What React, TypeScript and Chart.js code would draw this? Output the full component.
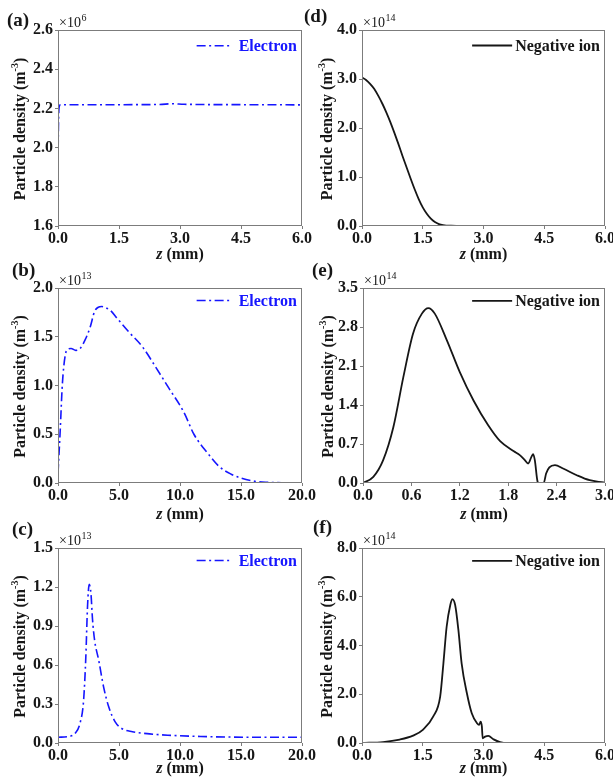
import React, { useEffect, useRef } from "react";
import { Chart, registerables } from "chart.js";
Chart.register(...registerables);

const SERIF = "'Liberation Serif', 'Times New Roman', Times, serif";
const BLUE = "#1616ff";
const BLACK = "#161616";
const AXIS = "#7c7c7c";

// ---- data (values in units of the panel's ×10^n) ----
// (a) electron, ×10^6
const aZ = [0, 0.01, 0.03, 0.06, 0.5, 1.5, 2.5, 2.8, 3.1, 4.5, 6.0];
const aN = [1.9, 2.1, 2.21, 2.218, 2.219, 2.219, 2.22, 2.224, 2.221, 2.219, 2.218];
// (b) electron, ×10^13
const bZ = [0, 0.17, 0.36, 0.58, 0.77, 1.07, 1.46, 1.82, 2.23, 2.64, 3.0, 3.27, 3.6, 3.88, 4.29, 4.84, 5.8, 6.9, 8.0, 9.1, 10.3, 11.14, 12.24, 13.2, 14.2, 15.0, 16.0, 17.2, 18.5, 20];
const bN = [0.1, 0.51, 1.02, 1.3, 1.37, 1.38, 1.36, 1.38, 1.47, 1.6, 1.76, 1.8, 1.81, 1.8, 1.77, 1.69, 1.55, 1.4, 1.19, 0.97, 0.73, 0.5, 0.31, 0.17, 0.09, 0.05, 0.02, 0.007, 0.002, 0];
// (c) electron, ×10^13
const cZ = [0, 0.85, 1.4, 1.8, 2.1, 2.28, 2.42, 2.56, 2.7, 2.83, 3.0, 3.33, 3.74, 4.15, 4.7, 5.25, 6.1, 7.5, 9, 11.7, 14, 16, 20];
const cN = [0.044, 0.05, 0.074, 0.15, 0.33, 0.66, 1.05, 1.22, 1.15, 0.95, 0.79, 0.64, 0.43, 0.28, 0.16, 0.11, 0.087, 0.07, 0.06, 0.05, 0.046, 0.044, 0.044];
// (d) negative ion, ×10^14
const dZ = [0, 0.1, 0.2, 0.3, 0.4, 0.5, 0.6, 0.7, 0.8, 0.9, 1.0, 1.1, 1.2, 1.3, 1.4, 1.5, 1.6, 1.7, 1.8, 1.9, 2.0, 2.2, 2.5, 6.0];
const dN = [3.03, 2.98, 2.9, 2.8, 2.66, 2.5, 2.32, 2.12, 1.9, 1.67, 1.43, 1.2, 0.97, 0.75, 0.55, 0.38, 0.25, 0.15, 0.08, 0.04, 0.02, 0.005, 0, 0];
// (e) negative ion, ×10^14
const eZ = [0, 0.128, 0.25, 0.376, 0.5, 0.62, 0.73, 0.81, 0.89, 1.04, 1.2, 1.37, 1.55, 1.7, 1.87, 1.944, 2.006, 2.047, 2.088, 2.11, 2.13, 2.165, 2.18, 2.24, 2.27, 2.31, 2.38, 2.48, 2.65, 2.81, 2.98, 3.0];
const eN = [0, 0.11, 0.41, 1.0, 1.9, 2.68, 3.04, 3.14, 3.04, 2.56, 1.99, 1.48, 1.04, 0.75, 0.57, 0.5, 0.41, 0.35, 0.47, 0.52, 0.41, 0.02, 0, 0, 0.17, 0.28, 0.32, 0.26, 0.14, 0.05, 0.01, 0.005];
// (f) negative ion, ×10^14
const fZ = [0, 0.52, 0.93, 1.26, 1.51, 1.76, 1.93, 2.01, 2.09, 2.18, 2.23, 2.3, 2.38, 2.46, 2.59, 2.71, 2.84, 2.89, 2.93, 2.96, 2.98, 3.04, 3.12, 3.25, 3.41, 3.58, 6.0];
const fN = [0, 0.04, 0.14, 0.3, 0.55, 1.09, 1.9, 3.27, 4.77, 5.66, 5.9, 5.66, 4.64, 3.27, 2.04, 1.22, 0.81, 0.74, 0.88, 0.67, 0.19, 0.26, 0.29, 0.15, 0.04, 0, 0];

// ---- tick labels ----
const xTicks6 = [0, 1.5, 3.0, 4.5, 6.0];
const xTicks20 = [0, 5, 10, 15, 20];
const xTicks3 = [0, 0.6, 1.2, 1.8, 2.4, 3.0];
const aYTicks = [1.6, 1.8, 2.0, 2.2, 2.4, 2.6];
const bYTicks = [0, 0.5, 1.0, 1.5, 2.0];
const cYTicks = [0, 0.3, 0.6, 0.9, 1.2, 1.5];
const dYTicks = [0, 1, 2, 3, 4];
const eYTicks = [0, 0.7, 1.4, 2.1, 2.8, 3.5];
const fYTicks = [0, 2, 4, 6, 8];

const panelLabels = ["(a)", "(b)", "(c)", "(d)", "(e)", "(f)"];
const exponents = ["6", "13", "13", "14", "14", "14"];
const seriesNames = ["Electron", "Negative ion"];

type Panel = {
  canvas: { left: number; top: number; w: number; h: number };
  plot: { l: number; t: number; r: number; b: number };
  z: number[];
  n: number[];
  xTicks: number[];
  yTicks: number[];
  exp: string;
  label: string;
  labelPos: [number, number];
  legendDy: number;
  electron: boolean;
  xTitleY: number;
  yTitleOff: number;
};

const COL1 = { left: 0, w: 330 };
const COL2 = { left: 296, w: 317 };
const ROW1 = { top: 0, h: 268 };
const ROW2 = { top: 258, h: 268 };
const ROW3 = { top: 516, h: 267 };

const panels: Panel[] = [
  { canvas: { left: COL1.left, top: ROW1.top, w: COL1.w, h: ROW1.h }, plot: { l: 58, t: 30, r: 302, b: 226 }, z: aZ, n: aN, xTicks: xTicks6, yTicks: aYTicks, exp: exponents[0], label: panelLabels[0], labelPos: [7, 25.5], legendDy: 15.7, electron: true, xTitleY: 259, yTitleOff: 33.5 },
  { canvas: { left: COL1.left, top: ROW2.top, w: COL1.w, h: ROW2.h }, plot: { l: 58, t: 288, r: 302, b: 483 }, z: bZ, n: bN, xTicks: xTicks20, yTicks: bYTicks, exp: exponents[1], label: panelLabels[1], labelPos: [12, 276], legendDy: 12.5, electron: true, xTitleY: 519, yTitleOff: 33.5 },
  { canvas: { left: COL1.left, top: ROW3.top, w: COL1.w, h: ROW3.h }, plot: { l: 58, t: 548, r: 302, b: 743 }, z: cZ, n: cN, xTicks: xTicks20, yTicks: cYTicks, exp: exponents[2], label: panelLabels[2], labelPos: [12, 534.5], legendDy: 12.5, electron: true, xTitleY: 773, yTitleOff: 33.5 },
  { canvas: { left: COL2.left, top: ROW1.top, w: COL2.w, h: ROW1.h }, plot: { l: 362, t: 30, r: 605, b: 226 }, z: dZ, n: dN, xTicks: xTicks6, yTicks: dYTicks, exp: exponents[3], label: panelLabels[3], labelPos: [304, 22], legendDy: 15.5, electron: false, xTitleY: 259, yTitleOff: 30.5 },
  { canvas: { left: COL2.left, top: ROW2.top, w: COL2.w, h: ROW2.h }, plot: { l: 363, t: 288, r: 605, b: 483 }, z: eZ, n: eN, xTicks: xTicks3, yTicks: eYTicks, exp: exponents[4], label: panelLabels[4], labelPos: [312, 276], legendDy: 12.8, electron: false, xTitleY: 519, yTitleOff: 30.5 },
  { canvas: { left: COL2.left, top: ROW3.top, w: COL2.w, h: ROW3.h }, plot: { l: 362, t: 548, r: 605, b: 743 }, z: fZ, n: fN, xTicks: xTicks6, yTicks: fYTicks, exp: exponents[5], label: panelLabels[5], labelPos: [313, 533], legendDy: 12.8, electron: false, xTitleY: 773, yTitleOff: 30.5 },
];

const DASH = [9, 3.5, 2, 3.5];

function makeChart(canvas: HTMLCanvasElement, p: Panel) {
  const ox = p.canvas.left;
  const oy = p.canvas.top;
  const plotL = p.plot.l - ox;
  const plotT = p.plot.t - oy;
  const plotR = p.plot.r - ox;
  const plotB = p.plot.b - oy;
  const color = p.electron ? BLUE : BLACK;
  const name = p.electron ? seriesNames[0] : seriesNames[1];

  const decor = {
    id: "decor",
    afterDraw(chart: any) {
      const ctx: CanvasRenderingContext2D = chart.ctx;
      const a = chart.chartArea;
      ctx.save();
      // frame
      ctx.strokeStyle = AXIS;
      ctx.lineWidth = 1;
      ctx.strokeRect(a.left + 0.5, a.top + 0.5, a.right - a.left - 1, a.bottom - a.top - 1);

      // legend
      ctx.font = `bold 16px ${SERIF}`;
      ctx.textBaseline = "middle";
      ctx.textAlign = "left";
      const tw = ctx.measureText(name).width;
      const textRight = a.right - 5;
      const textLeft = textRight - tw;
      const cy = a.top + p.legendDy;
      const gap = p.electron ? 9 : 3;
      const len = p.electron ? 33 : 40;
      ctx.fillStyle = color;
      ctx.fillText(name, textLeft, cy + 1);
      ctx.strokeStyle = color;
      ctx.lineWidth = p.electron ? 1.6 : 1.8;
      ctx.setLineDash(p.electron ? DASH : []);
      ctx.beginPath();
      ctx.moveTo(textLeft - gap - len, cy);
      ctx.lineTo(textLeft - gap, cy);
      ctx.stroke();
      ctx.setLineDash([]);

      // exponent
      ctx.fillStyle = BLACK;
      ctx.textBaseline = "alphabetic";
      ctx.font = `14px ${SERIF}`;
      const ex = a.left + 1;
      const ey = a.top - 3.5;
      ctx.fillText("×10", ex, ey);
      const w10 = ctx.measureText("×10").width;
      ctx.font = `10px ${SERIF}`;
      ctx.fillText(p.exp, ex + w10 + 0.5, ey - 6);

      // panel label
      ctx.font = `bold 19px ${SERIF}`;
      ctx.fillText(p.label, p.labelPos[0] - ox, p.labelPos[1] - oy);

      // x title
      const cx = (a.left + a.right) / 2;
      ctx.font = `italic bold 16px ${SERIF}`;
      const wz = ctx.measureText("z").width;
      ctx.font = `bold 16px ${SERIF}`;
      const wr = ctx.measureText(" (mm)").width;
      const sx = cx - (wz + wr) / 2;
      const ty = p.xTitleY - oy;
      ctx.font = `italic bold 16px ${SERIF}`;
      ctx.fillText("z", sx, ty);
      ctx.font = `bold 16px ${SERIF}`;
      ctx.fillText(" (mm)", sx + wz, ty);

      // y title
      ctx.translate(a.left - p.yTitleOff, (a.top + a.bottom) / 2 + 1);
      ctx.rotate(-Math.PI / 2);
      const parts = [
        { t: "Particle density (m", f: `bold 16px ${SERIF}`, dy: 0 },
        { t: "-3", f: `bold 10px ${SERIF}`, dy: -6.5 },
        { t: ")", f: `bold 16px ${SERIF}`, dy: 0 },
      ];
      let total = 0;
      for (const pt of parts) {
        ctx.font = pt.f;
        total += ctx.measureText(pt.t).width;
      }
      let px = -total / 2;
      for (const pt of parts) {
        ctx.font = pt.f;
        ctx.fillText(pt.t, px, pt.dy);
        px += ctx.measureText(pt.t).width;
      }
      ctx.restore();
    },
  };

  const tickFont = { family: SERIF, size: 16, weight: "bold" as const };

  return new Chart(canvas, {
    type: "line",
    data: {
      datasets: [
        {
          label: name,
          data: p.z.map((z, i) => ({ x: z, y: p.n[i] })),
          borderColor: color,
          borderWidth: p.electron ? 1.6 : 1.8,
          borderDash: p.electron ? DASH : [],
          pointRadius: 0,
          fill: false,
          cubicInterpolationMode: "monotone",
        } as any,
      ],
    },
    options: {
      responsive: false,
      maintainAspectRatio: false,
      animation: false,
      events: [],
      layout: { padding: { top: plotT, right: p.canvas.w - plotR, left: 0, bottom: 0 } },
      plugins: { legend: { display: false }, tooltip: { enabled: false }, title: { display: false } },
      scales: {
        x: {
          type: "linear",
          min: p.xTicks[0],
          max: p.xTicks[p.xTicks.length - 1],
          afterBuildTicks: (s: any) => {
            s.ticks = p.xTicks.map((v) => ({ value: v }));
          },
          ticks: {
            font: tickFont,
            color: BLACK,
            padding: 0,
            maxRotation: 0,
            autoSkip: false,
            callback: (v: any) => Number(v).toFixed(1),
          },
          grid: { drawOnChartArea: false, drawTicks: true, tickLength: 3, color: AXIS },
          border: { display: false },
          afterFit: (s: any) => {
            s.height = p.canvas.h - plotB;
            s.paddingLeft = 0;
            s.paddingRight = 0;
          },
        },
        y: {
          type: "linear",
          min: p.yTicks[0],
          max: p.yTicks[p.yTicks.length - 1],
          afterBuildTicks: (s: any) => {
            s.ticks = p.yTicks.map((v) => ({ value: v }));
          },
          ticks: {
            font: tickFont,
            color: BLACK,
            padding: 2,
            autoSkip: false,
            callback: (v: any) => Number(v).toFixed(1),
          },
          grid: { drawOnChartArea: false, drawTicks: true, tickLength: 3, color: AXIS },
          border: { display: false },
          afterFit: (s: any) => {
            s.width = plotL;
            s.paddingTop = 0;
            s.paddingBottom = 0;
          },
        },
      },
    } as any,
    plugins: [decor],
  });
}

function PanelCanvas({ p }: { p: Panel }) {
  const ref = useRef<HTMLCanvasElement | null>(null);
  useEffect(() => {
    if (!ref.current) return;
    const chart = makeChart(ref.current, p);
    return () => chart.destroy();
  }, [p]);
  return (
    <canvas
      ref={ref}
      width={p.canvas.w}
      height={p.canvas.h}
      style={{
        position: "absolute",
        left: p.canvas.left,
        top: p.canvas.top,
        width: p.canvas.w,
        height: p.canvas.h,
      }}
    />
  );
}

export default function App() {
  return (
    <div
      style={{
        position: "absolute",
        left: 0,
        top: 0,
        width: 613,
        height: 783,
        background: "#ffffff",
        overflow: "hidden",
      }}
    >
      {panels.map((p, i) => (
        <PanelCanvas key={i} p={p} />
      ))}
    </div>
  );
}
